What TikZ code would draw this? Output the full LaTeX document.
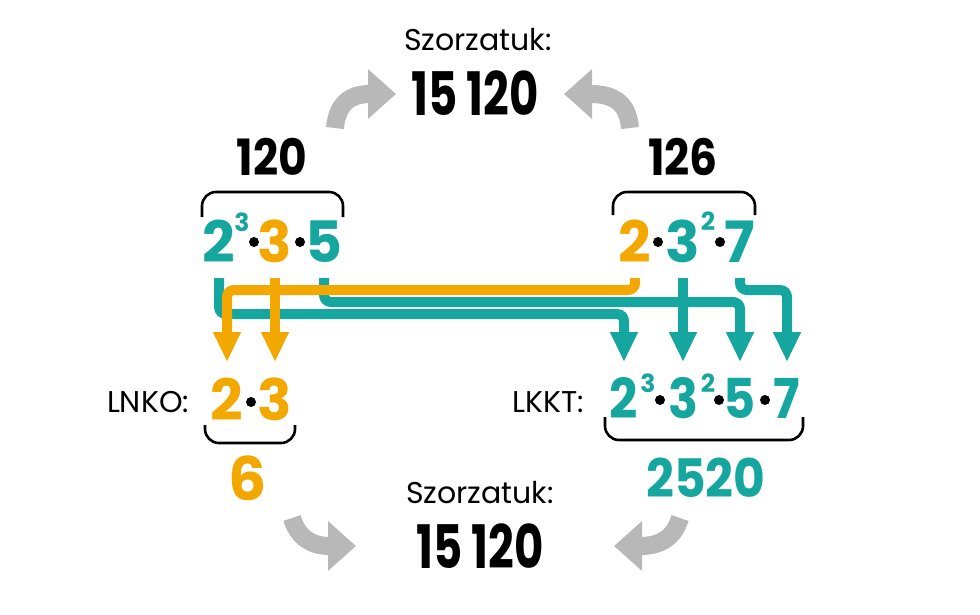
\documentclass[tikz,border=0pt]{standalone}
\usepackage{fontspec}
\setmainfont{Poppins}
\usetikzlibrary{arrows.meta}
\definecolor{tealc}{RGB}{22,166,160}
\definecolor{orangec}{RGB}{242,168,0}
\definecolor{grayc}{RGB}{184,184,184}
\newcommand{\fsz}[1]{\fontsize{#1}{#1}\selectfont}
\begin{document}
\begin{tikzpicture}[x=1pt,y=-1pt,
  num/.style={inner sep=0pt, anchor=base, font=\fsz{57}\bfseries},
  numb/.style={inner sep=0pt, anchor=base, font=\fsz{55}\bfseries},
  supn/.style={inner sep=0pt, anchor=base, font=\fsz{25}\bfseries},
  lbl/.style={inner sep=0pt, anchor=base, font=\fsz{30}},
  big/.style={inner sep=0pt, anchor=base, font=\fsz{60}\bfseries},
  ln/.style={line width=10pt, rounded corners=7pt, -{Triangle[length=30pt,width=26pt]}},
  brk/.style={line width=2.6pt, rounded corners=14pt},
  garrow/.style={grayc, line width=18pt, -{Triangle[length=28pt,width=48pt]}},
  dotc/.style={circle, fill=black, inner sep=0pt, minimum size=10pt}
]
\useasboundingbox[fill=white] (0,0) rectangle (980,614);

% top product
\node[lbl, anchor=center] (szt) at (478,40) {Szorzatuk:};
\node[big] (prodt) at (475,115) {\scalebox{0.75}[1]{15 120}};
% numbers
\node[big, font=\fsz{50}\bfseries] (n120) at (272,175) {\scalebox{0.88}[1]{120}};
\node[big, font=\fsz{50}\bfseries] (n126) at (683,175) {\scalebox{0.88}[1]{126}};

% top-left factorisation
\node[num, tealc] (tl2) at (219,262) {2};
\node[supn, tealc] (tl2s) at (242,231) {3};
\node[dotc] (tld1) at (254,242) {};
\node[num, orangec] (tl3) at (275,262) {3};
\node[dotc] (tld2) at (300,242) {};
\node[num, tealc] (tl5) at (324,262) {5};

% top-right factorisation
\node[num, orangec] (tr2) at (635,262) {2};
\node[dotc] (trd1) at (658,242) {};
\node[num, tealc] (tr3) at (683,262) {3};
\node[supn, tealc] (tr3s) at (708,230) {2};
\node[dotc] (trd2) at (720,242) {};
\node[num, tealc] (tr7) at (740,262) {7};

% LNKO
\node[lbl] (lnko) at (148,412) {LNKO:};
\node[num, orangec] (ln2) at (227,420) {2};
\node[dotc] (lnd) at (251,402) {};
\node[num, orangec] (ln3) at (275,420) {3};
\node[big, orangec] (six) at (248,500) {6};

% LKKT
\node[lbl] (lkkt) at (548,412) {LKKT:};
\node[numb, tealc] (lk2) at (624,418) {\scalebox{0.9}[1]{2}};
\node[supn, tealc] (lk2s) at (648,392) {3};
\node[dotc] (lkd1) at (660,400) {};
\node[numb, tealc] (lk3) at (683,418) {\scalebox{0.9}[1]{3}};
\node[supn, tealc] (lk3s) at (708,392) {2};
\node[dotc] (lkd2) at (719,400) {};
\node[numb, tealc] (lk5) at (740,418) {\scalebox{0.9}[1]{5}};
\node[dotc] (lkd3) at (765,400) {};
\node[numb, tealc] (lk7) at (787,418) {\scalebox{0.9}[1]{7}};
\node[big, tealc, font=\fsz{53}\bfseries] (n2520) at (706,497) {\scalebox{0.92}[1]{2520}};

% bottom product
\node[lbl, anchor=center] (szb) at (480,493) {Szorzatuk:};
\node[big] (prodb) at (480,568) {\scalebox{0.75}[1]{15 120}};

% brackets
\draw[brk] (202,217) -- (202,192) -- (343,192) -- (343,217);
\draw[brk] (613,215) -- (613,192) -- (755,192) -- (755,215);
\draw[brk] (205,425) -- (205,443) -- (295,443) -- (295,425);
\draw[brk] (605,417) -- (605,440) -- (803,440) -- (803,417);

% row coordinates
\coordinate (rs) at (0,278);
\coordinate (ro) at (0,290);
\coordinate (r5) at (0,302);
\coordinate (r2) at (0,314);
\coordinate (rt) at (0,362);

% teal connectors
\draw[ln, tealc] (tl2 |- rs) -- (tl2 |- r2) -- (lk2 |- r2) -- (lk2 |- rt);
\draw[ln, tealc] (tl5 |- rs) -- (tl5 |- r5) -- (lk5 |- r5) -- (lk5 |- rt);
\draw[ln, tealc] (tr3 |- rs) -- (lk3 |- rt);
\draw[ln, tealc] (tr7 |- rs) -- (tr7 |- ro) -- (lk7 |- ro) -- (lk7 |- rt);
% orange connectors
\draw[ln, orangec] (tr2 |- rs) -- (tr2 |- ro) -- (ln2 |- ro) -- (ln2 |- rt);
\draw[ln, orangec] (tl3 |- rs) -- (ln3 |- rt);

% grey curved arrows
\coordinate (ga1) at (335,128);
\coordinate (ga2) at (630,128);
\coordinate (ga3) at (292,518);
\coordinate (ga4) at (680,518);
\coordinate (ge1) at (396,94);
\coordinate (ge2) at (564,94);
\coordinate (ge3) at (356,546);
\coordinate (ge4) at (614,546);
\draw[garrow] (ga1) .. controls (337,104) and (350,94) .. (ge1);
\draw[garrow] (ga2) .. controls (628,104) and (615,94) .. (ge2);
\draw[garrow] (ga3) .. controls (298,538) and (312,546) .. (ge3);
\draw[garrow] (ga4) .. controls (674,538) and (660,546) .. (ge4);
\end{tikzpicture}
\end{document}
